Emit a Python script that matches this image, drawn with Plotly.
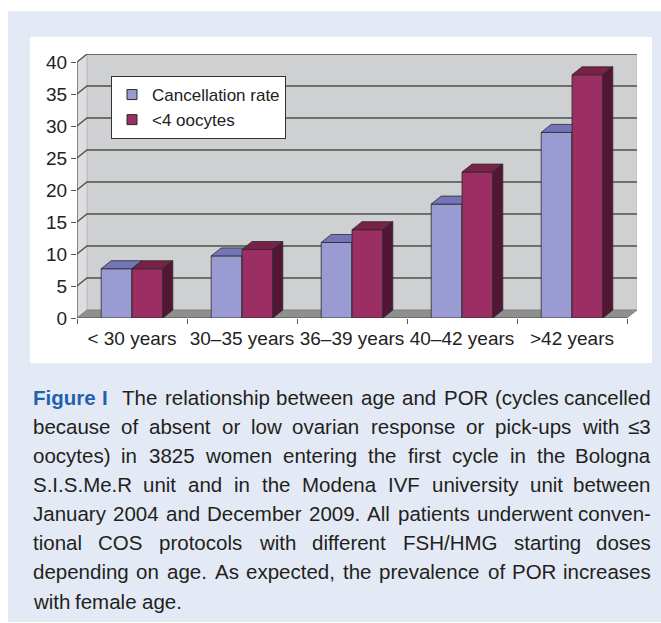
import plotly.graph_objects as go

# ---------------- data ----------------
categories = ["< 30 years", "30–35 years", "36–39 years", "40–42 years", ">42 years"]
cancellation_rate = [7.7, 9.7, 11.8, 17.8, 29.0]
lt4_oocytes = [7.7, 10.7, 13.8, 22.8, 38.0]
y_ticks = [0, 5, 10, 15, 20, 25, 30, 35, 40]
series_names = ["Cancellation rate", "<4 oocytes"]

caption_lines = [
    "The relationship between age and POR (cycles cancelled",
    "because of absent or low ovarian response or pick-ups with ≤3",
    "oocytes) in 3825 women entering the first cycle in the Bologna",
    "S.I.S.Me.R unit and in the Modena IVF university unit between",
    "January 2004 and December 2009. All patients underwent conven-",
    "tional COS protocols with different FSH/HMG starting doses",
    "depending on age. As expected, the prevalence of POR increases",
    "with female age.",
]
caption_label = "Figure I"

# ---------------- geometry / style ----------------
W, H = 661, 623
X0_PX, X1_PX = 77, 637      # plot x domain in px
Y_TOP_PX, Y_BOT_PX = 54, 318
DX = 10 / 110               # depth offset in x units
DY = 1.25                   # depth offset in y units
YMAX = 40
BAR_W = 0.28

FONT = "Liberation Sans, Arial, sans-serif"
TXT = "#222222"
BACK = "#cfd0d2"
SIDE = "#dcdddf"
FLOOR = "#8e9090"
GRID = "#4d4d4d"
OUT = "#2a2a2a"
BLUE = ("#9b9bd3", "#7474b8", "#5c5c9c")   # front, top, side
RED = ("#9b2e62", "#7a2149", "#521634")

fig = go.Figure()


def poly(xs, ys, fill, line_color=None, line_width=0.0):
    fig.add_trace(go.Scatter(
        x=list(xs) + [xs[0]], y=list(ys) + [ys[0]], mode="lines", fill="toself",
        fillcolor=fill, line=dict(color=line_color or fill, width=line_width),
        hoverinfo="skip", showlegend=False))


def seg(xs, ys, color, width):
    fig.add_trace(go.Scatter(x=xs, y=ys, mode="lines", line=dict(color=color, width=width),
                             hoverinfo="skip", showlegend=False))


xl, xr = -0.5, len(categories) - 0.5
# back wall
poly([xl + DX, xr + DX, xr + DX, xl + DX], [DY, DY, YMAX + DY, YMAX + DY], BACK, "#bdbebf", 1)
# side wall
poly([xl, xl + DX, xl + DX, xl], [0, DY, YMAX + DY, YMAX], SIDE, "#bdbebf", 1)
# floor
poly([xl, xr, xr + DX, xl + DX], [0, 0, DY, DY], FLOOR, "#7a7c7c", 0.8)
# gridlines
for v in y_ticks[1:]:
    seg([xl, xl + DX, xr + DX], [v, v + DY, v + DY], GRID, 1.3)
# front axis lines
seg([xl, xl], [0, YMAX], "#555555", 1.2)
seg([xl, xr], [0, 0], "#555555", 1.2)


def bar3d(xa, xb, v, cols):
    poly([xa, xb, xb, xa], [0, 0, v, v], cols[0], OUT, 0.8)
    poly([xa, xb, xb + DX, xa + DX], [v, v, v + DY, v + DY], cols[1], OUT, 0.8)
    poly([xb, xb + DX, xb + DX, xb], [0, DY, v + DY, v], cols[2], OUT, 0.8)


for i in range(len(categories)):
    bar3d(i - BAR_W, i, cancellation_rate[i], BLUE)
    bar3d(i, i + BAR_W, lt4_oocytes[i], RED)

# legend entries
for name, cols in zip(series_names, (BLUE, RED)):
    fig.add_trace(go.Scatter(x=[None], y=[None], mode="markers", name=name,
                             marker=dict(symbol="square", size=10, color=cols[0],
                                         line=dict(color=OUT, width=1))))

# ---------------- layout ----------------
shapes = [
    dict(type="rect", xref="paper", yref="paper", x0=8 / W, x1=1, y0=1 - 622 / H, y1=1 - 11 / H,
         fillcolor="#e4eaf5", line=dict(width=0), layer="below"),
    dict(type="rect", xref="paper", yref="paper", x0=30 / W, x1=652 / W, y0=1 - 363 / H, y1=1 - 37 / H,
         fillcolor="white", line=dict(width=0), layer="below"),
]

# ---------------- caption (justified word by word) ----------------
REG = {' ': 278, '(': 333, ')': 333, ',': 278, '-': 333, '.': 278, '/': 278, '≤': 549, '–': 556,
       'A': 667, 'B': 667, 'C': 722, 'D': 722, 'E': 667, 'F': 611, 'G': 778, 'H': 722, 'I': 278,
       'J': 500, 'K': 667, 'L': 556, 'M': 833, 'N': 722, 'O': 778, 'P': 667, 'Q': 778, 'R': 722,
       'S': 667, 'T': 611, 'U': 722, 'V': 667, 'W': 944, 'X': 667, 'Y': 667, 'Z': 611,
       'a': 556, 'b': 556, 'c': 500, 'd': 556, 'e': 556, 'f': 278, 'g': 556, 'h': 556, 'i': 222,
       'j': 222, 'k': 500, 'l': 222, 'm': 833, 'n': 556, 'o': 556, 'p': 556, 'q': 556, 'r': 333,
       's': 500, 't': 278, 'u': 556, 'v': 500, 'w': 722, 'x': 500, 'y': 500, 'z': 500}
BOLD = {'F': 611, 'i': 278, 'g': 611, 'u': 611, 'r': 389, 'e': 556, 'I': 278, ' ': 278}


def tw(s, size, bold=False):
    tab = BOLD if bold else REG
    return sum(tab.get(c, 556) for c in s) * size / 1000


CAP_SIZE = 20.5
CAP_L, CAP_R = 31.5, 651.5
CAP_Y0, CAP_DY = 397, 29.15
CAP_COL = "#231f20"
annotations = []


def word_ann(text, xpx, ypx, anchor, bold=False, color=CAP_COL):
    annotations.append(dict(
        text=f"<b>{text}</b>" if bold else text, xref="paper", yref="paper",
        x=xpx / W, y=1 - ypx / H, xanchor=anchor, yanchor="middle", showarrow=False,
        borderpad=0, font=dict(family=FONT, size=CAP_SIZE, color=color)))


for li, line in enumerate(caption_lines):
    ypx = CAP_Y0 + li * CAP_DY
    toks = [(w, False, CAP_COL, 1.0) for w in line.split(" ")]
    if li == 0:
        lab = caption_label.split(" ")
        toks = [(lab[0], True, "#1f62ac", 1.0), (lab[1], True, "#1f62ac", 2.0)] + toks
    widths = [tw(t[0], CAP_SIZE, t[1]) for t in toks]
    last = li == len(caption_lines) - 1
    if last:
        gap_unit = tw(" ", CAP_SIZE)
    else:
        total_w = sum(t[3] for t in toks[:-1])
        gap_unit = (CAP_R - CAP_L - sum(widths)) / total_w
    x = CAP_L
    for k, (t, b, c, gw) in enumerate(toks):
        if k == len(toks) - 1 and not last:
            word_ann(t, CAP_R, ypx, "right", b, c)
        else:
            word_ann(t, x, ypx, "left", b, c)
        x += widths[k] + gap_unit * gw

fig.update_layout(
    width=W, height=H, margin=dict(l=0, r=0, t=0, b=0),
    paper_bgcolor="white", plot_bgcolor="rgba(0,0,0,0)",
    showlegend=True, shapes=shapes, annotations=annotations,
    font=dict(family=FONT, color=TXT),
    legend=dict(x=111 / W, y=1 - 76 / H, xanchor="left", yanchor="top",
                bgcolor="white", bordercolor="#333333", borderwidth=1,
                font=dict(family=FONT, size=17, color=TXT), traceorder="normal",
                itemclick=False, itemdoubleclick=False),
    xaxis=dict(domain=[X0_PX / W, X1_PX / W], range=[xl, xr + DX], showgrid=False, zeroline=False,
               showline=False, tickvals=list(range(len(categories))), ticktext=categories,
               ticks="outside", ticklen=3, tickcolor="rgba(0,0,0,0)", automargin=False,
               tickfont=dict(family=FONT, size=19, color=TXT), fixedrange=True,
               minor=dict(tickvals=[i - 0.5 for i in range(len(categories) + 1)], ticks="outside",
                          ticklen=5, tickcolor="#555555", showgrid=False)),
    yaxis=dict(domain=[1 - Y_BOT_PX / H, 1 - Y_TOP_PX / H], range=[0, YMAX + DY], showgrid=False,
               zeroline=False, showline=False, tickvals=y_ticks, ticks="outside", ticklen=5,
               tickcolor="#555555", automargin=False, fixedrange=True,
               tickfont=dict(family=FONT, size=19, color=TXT)),
)

fig.write_html(
    "out.html",
    config={"displayModeBar": False, "staticPlot": True},
    post_script="document.body.style.margin='0';document.body.style.overflow='hidden';",
)
